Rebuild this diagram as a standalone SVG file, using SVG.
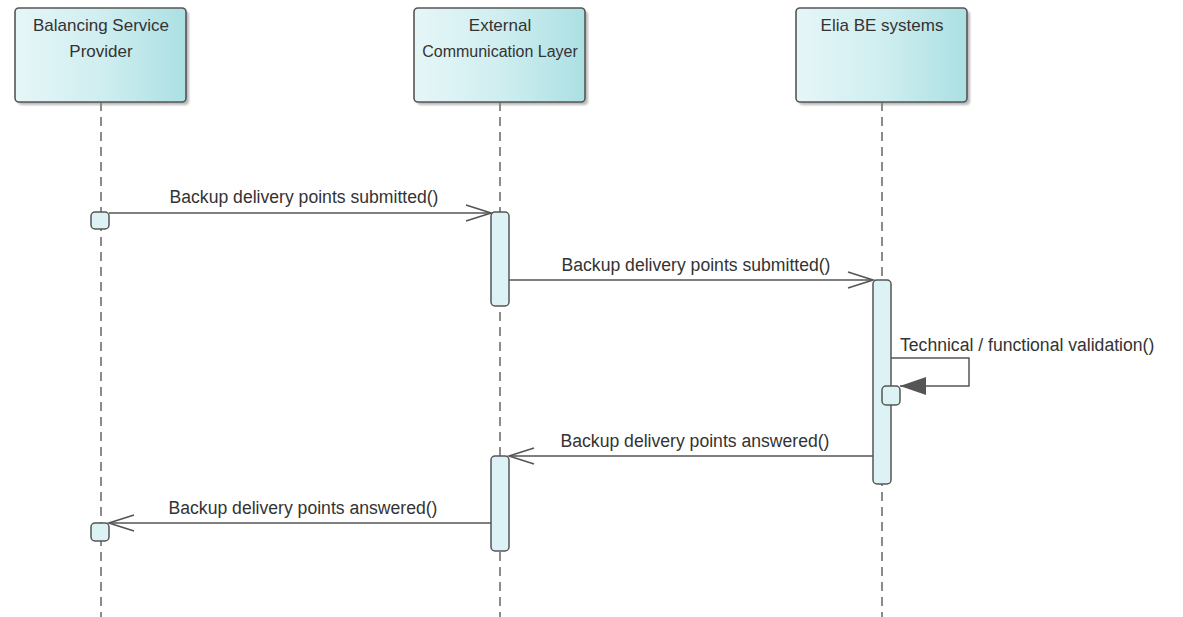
<svg xmlns="http://www.w3.org/2000/svg" width="1183" height="617" viewBox="0 0 1183 617">
<style>
.box{fill:url(#g);stroke:#555;stroke-width:1.6}
.shadow{fill:#8a8a8a;opacity:0.6;filter:url(#blur)}
.t{font-family:"Liberation Sans",Arial,sans-serif;font-size:17px;fill:#333}
.m{font-size:17.6px}
.n{font-size:16px}
.life{stroke:#666;stroke-width:1.5;stroke-dasharray:9,6;fill:none}
.act{fill:#dcf2f4;stroke:#555;stroke-width:1.5}
.msg{stroke:#555;stroke-width:1.5;fill:none}
</style>
<defs>
<linearGradient id="g" x1="0" y1="0" x2="1" y2="0">
<stop offset="0" stop-color="#e6f6f7"/>
<stop offset="0.5" stop-color="#d0eef0"/>
<stop offset="1" stop-color="#abe0e3"/>
</linearGradient>
<filter id="blur" x="-10%" y="-10%" width="120%" height="120%"><feGaussianBlur stdDeviation="1.2"/></filter>
<marker id="open" markerWidth="28" markerHeight="20" refX="26" refY="10" orient="auto" markerUnits="userSpaceOnUse">
<path d="M1,2 L26,10 L1,18" fill="none" stroke="#555" stroke-width="1.5"/>
</marker>
<marker id="fill" markerWidth="28" markerHeight="20" refX="26" refY="10" orient="auto" markerUnits="userSpaceOnUse">
<path d="M0,1 L26,10 L0,19 Z" fill="#555"/>
</marker>
</defs>
<rect width="1183" height="617" fill="#fff"/>

<g id="lifelines">
<line class="life" x1="101" y1="102" x2="101" y2="617"/>
<line class="life" x1="500" y1="102" x2="500" y2="617"/>
<line class="life" x1="882" y1="102" x2="882" y2="617"/>
</g>

<g id="bsp">
<rect class="shadow" x="18" y="11" width="171" height="94" rx="4"/>
<rect class="box" x="15" y="8" width="171" height="94" rx="4"/>
<text class="t" x="101" y="31" text-anchor="middle">Balancing Service</text>
<text class="t" x="101" y="57" text-anchor="middle">Provider</text>
</g>
<g id="ecl">
<rect class="shadow" x="417" y="11" width="171" height="94" rx="4"/>
<rect class="box" x="414" y="8" width="171" height="94" rx="4"/>
<text class="t" x="500" y="31" text-anchor="middle">External</text>
<text class="t n" x="500" y="57" text-anchor="middle">Communication Layer</text>
</g>
<g id="elia">
<rect class="shadow" x="799" y="11" width="171" height="94" rx="4"/>
<rect class="box" x="796" y="8" width="171" height="94" rx="4"/>
<text class="t" x="882" y="31" text-anchor="middle">Elia BE systems</text>
</g>

<g id="activations">
<rect class="act" x="91" y="212" width="18" height="17" rx="4"/>
<rect class="act" x="491" y="212" width="18" height="94" rx="4"/>
<rect class="act" x="873" y="280" width="18" height="204" rx="4"/>
<rect class="act" x="882" y="386" width="18" height="19" rx="4"/>
<rect class="act" x="491" y="456" width="18" height="95" rx="4"/>
<rect class="act" x="91" y="523" width="18" height="18" rx="4"/>
</g>

<g id="connectors">
<line class="msg" x1="109" y1="213" x2="491" y2="213" marker-end="url(#open)"/>
<text class="t m" x="304" y="203" text-anchor="middle">Backup delivery points submitted()</text>
<line class="msg" x1="509" y1="280" x2="873" y2="280" marker-end="url(#open)"/>
<text class="t m" x="696" y="271" text-anchor="middle">Backup delivery points submitted()</text>
<polyline class="msg" points="891,358 969,358 969,386 900,386" marker-end="url(#fill)"/>
<text class="t m" x="900" y="351">Technical / functional validation()</text>
<line class="msg" x1="873" y1="456" x2="509" y2="456" marker-end="url(#open)"/>
<text class="t m" x="695" y="447" text-anchor="middle">Backup delivery points answered()</text>
<line class="msg" x1="491" y1="523" x2="109" y2="523" marker-end="url(#open)"/>
<text class="t m" x="303" y="514" text-anchor="middle">Backup delivery points answered()</text>
</g>
</svg>
